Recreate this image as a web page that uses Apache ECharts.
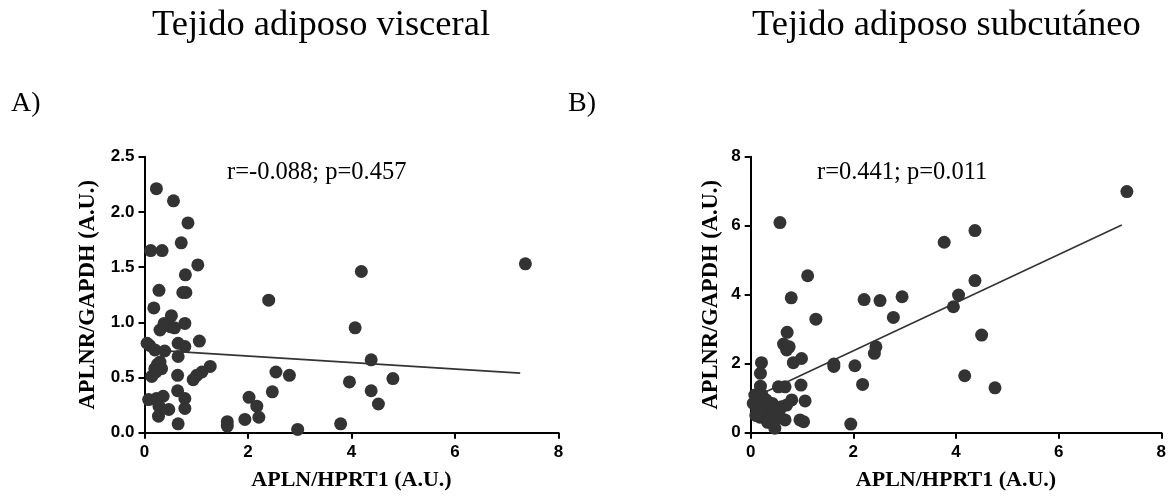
<!DOCTYPE html>
<html>
<head>
<meta charset="utf-8">
<script src="https://cdn.jsdelivr.net/npm/echarts@6/dist/echarts.min.js"></script>
<style>html,body{margin:0;padding:0;background:#fff}#c{width:1169px;height:498px}</style>
</head>
<body>
<div id="c"></div>
<script>
// ---- Data ----
const titles = ['Tejido adiposo visceral', 'Tejido adiposo subcutáneo'];
const panelLabels = ['A)', 'B)'];
const statsText = ['r=-0.088; p=0.457', 'r=0.441; p=0.011'];
const xName = 'APLN/HPRT1 (A.U.)';
const yName = 'APLNR/GAPDH (A.U.)';
const xTicks = [0, 2, 4, 6, 8];
const yTicksA = [0, 0.5, 1.0, 1.5, 2.0, 2.5];
const yTicksB = [0, 2, 4, 6, 8];

const visceral = [
  [0.23,2.21],[0.56,2.10],[0.84,1.90],[0.12,1.65],[0.34,1.65],[0.71,1.72],[1.03,1.52],
  [0.79,1.43],[0.28,1.29],[0.74,1.27],[0.80,1.27],[0.18,1.13],[2.40,1.20],[0.52,1.06],
  [0.38,0.99],[0.30,0.93],[0.50,0.96],[0.58,0.95],[0.78,0.99],[1.06,0.83],[0.05,0.81],
  [0.10,0.79],[0.20,0.75],[0.39,0.74],[0.65,0.81],[0.78,0.78],[0.65,0.69],[0.30,0.64],
  [0.20,0.58],[0.33,0.58],[0.25,0.62],[0.22,0.55],[0.14,0.51],[0.64,0.52],[1.01,0.52],
  [0.94,0.48],[1.11,0.55],[1.27,0.60],[0.08,0.30],[0.23,0.31],[0.36,0.33],[0.64,0.38],
  [0.78,0.31],[0.28,0.24],[0.47,0.21],[0.78,0.22],[0.27,0.15],[0.65,0.08],[1.60,0.10],
  [1.60,0.06],[1.94,0.12],[2.02,0.32],[2.17,0.24],[2.21,0.14],[2.47,0.37],[2.54,0.55],
  [2.80,0.52],[2.96,0.03],[3.79,0.08],[3.96,0.46],[4.07,0.95],[4.19,1.46],[4.38,0.66],
  [4.38,0.38],[4.52,0.26],[4.80,0.49],[7.36,1.53]
];
const subcutaneo = [
  [0.57,6.09],[1.11,4.55],[0.79,3.91],[1.27,3.29],[0.71,2.91],[0.64,2.57],[0.70,2.40],
  [0.75,2.49],[0.83,2.03],[0.99,2.15],[1.62,1.99],[1.62,1.92],[2.03,1.94],[2.18,1.40],
  [2.21,3.86],[2.52,3.83],[2.95,3.94],[2.78,3.34],[2.44,2.49],[2.41,2.30],[3.77,5.52],
  [4.37,5.86],[4.37,4.41],[4.05,3.99],[3.95,3.65],[4.50,2.83],[4.17,1.65],[4.76,1.30],
  [7.33,6.99],[0.98,1.38],[1.06,0.92],[0.96,0.37],[1.03,0.32],[1.95,0.25],[0.47,0.13],
  [0.67,0.37],[0.54,1.33],[0.67,1.33],[0.21,2.03],[0.19,1.72],[0.19,1.35],[0.08,1.09],
  [0.15,1.04],[0.80,0.95],[0.70,0.80],[0.60,0.75],
  [0.05,0.85],[0.12,0.70],[0.20,0.90],[0.25,0.75],[0.30,0.60],[0.10,0.50],[0.18,0.45],
  [0.28,0.42],[0.35,0.55],[0.40,0.65],[0.45,0.50],[0.22,1.10],[0.30,0.95],[0.38,0.80],
  [0.15,0.60],[0.50,0.40],[0.33,0.30],[0.42,0.85],[0.55,0.60]
];
const fitA = [[0.10,0.75],[7.26,0.54]];
const fitB = [[0.10,1.05],[7.23,6.02]];

// ---- Chart ----
const ink = '#000';
const dot = '#333333';
const serif = '"Liberation Serif", "Times New Roman", serif';
const sans = '"Liberation Sans", Arial, sans-serif';

function xAxisDef(gi) {
  return {
    type: 'value', gridIndex: gi, min: 0, max: 8, interval: 2,
    name: xName, nameLocation: 'middle', nameGap: 37,
    nameTextStyle: {fontFamily: serif, fontWeight: 'bold', fontSize: 22, color: ink},
    axisLine: {show: true, onZero: false, lineStyle: {color: ink, width: 2}},
    axisTick: {show: true, length: 6, lineStyle: {color: ink, width: 2}},
    axisLabel: {margin: 11, fontFamily: sans, fontWeight: 'bold', fontSize: 17, color: ink,
      formatter: v => xTicks.includes(v) ? String(v) : ''},
    splitLine: {show: false}
  };
}
function yAxisDef(gi, max, interval, ticks, gap, dec) {
  return {
    type: 'value', gridIndex: gi, min: 0, max: max, interval: interval,
    name: yName, nameLocation: 'middle', nameGap: gap,
    nameTextStyle: {fontFamily: serif, fontWeight: 'bold', fontSize: 22.5, color: ink},
    axisLine: {show: true, onZero: false, lineStyle: {color: ink, width: 2}},
    axisTick: {show: true, length: 6, lineStyle: {color: ink, width: 2}},
    axisLabel: {margin: 10, fontFamily: sans, fontWeight: 'bold', fontSize: 17, color: ink,
      formatter: v => ticks.some(t => Math.abs(t - v) < 1e-9) ? v.toFixed(dec) : ''},
    splitLine: {show: false}
  };
}

const chart = echarts.init(document.getElementById('c'), null, {renderer: 'canvas'});
chart.setOption({
  backgroundColor: '#fff',
  animation: false,
  title: [
    {text: titles[0], left: 152, top: 7, padding: 0, textStyle: {fontFamily: serif, fontWeight: 'normal', fontSize: 36.5, color: ink}},
    {text: titles[1], left: 752, top: 7, padding: 0, textStyle: {fontFamily: serif, fontWeight: 'normal', fontSize: 36.5, color: ink}},
    {text: panelLabels[0], left: 11, top: 90, padding: 0, textStyle: {fontFamily: serif, fontWeight: 'normal', fontSize: 28, color: ink}},
    {text: panelLabels[1], left: 568, top: 90, padding: 0, textStyle: {fontFamily: serif, fontWeight: 'normal', fontSize: 28, color: ink}},
    {text: statsText[0], left: 227, top: 160, padding: 0, textStyle: {fontFamily: serif, fontWeight: 'normal', fontSize: 24.5, color: ink}},
    {text: statsText[1], left: 817, top: 160, padding: 0, textStyle: {fontFamily: serif, fontWeight: 'normal', fontSize: 24.5, color: ink}}
  ],
  grid: [
    {left: 144.5, top: 156.7, width: 414, height: 276, containLabel: false},
    {left: 750.7, top: 156.7, width: 413.3, height: 276, containLabel: false}
  ],
  xAxis: [xAxisDef(0), xAxisDef(1)],
  yAxis: [yAxisDef(0, 2.5, 0.5, yTicksA, 45, 1), yAxisDef(1, 8, 2, yTicksB, 28, 0)],
  series: [
    {type: 'scatter', xAxisIndex: 0, yAxisIndex: 0, data: visceral, symbolSize: 13,
      itemStyle: {color: dot, opacity: 1}, z: 3},
    {type: 'line', xAxisIndex: 0, yAxisIndex: 0, data: fitA, symbol: 'none',
      lineStyle: {color: dot, width: 1.6}, z: 2},
    {type: 'scatter', xAxisIndex: 1, yAxisIndex: 1, data: subcutaneo, symbolSize: 13,
      itemStyle: {color: dot, opacity: 1}, z: 3},
    {type: 'line', xAxisIndex: 1, yAxisIndex: 1, data: fitB, symbol: 'none',
      lineStyle: {color: dot, width: 1.6}, z: 2}
  ]
});
</script>
</body>
</html>
